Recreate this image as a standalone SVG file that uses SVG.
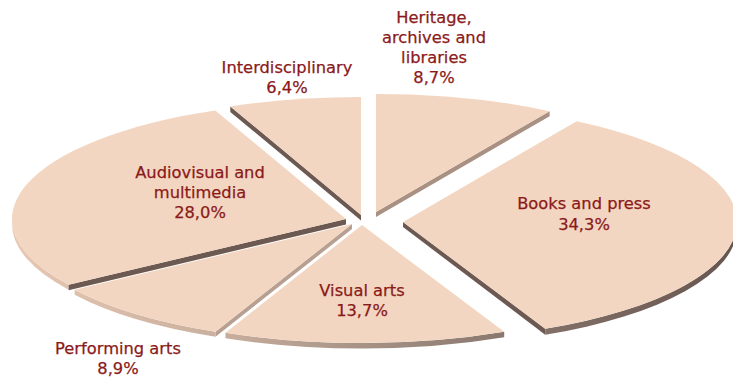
<svg xmlns="http://www.w3.org/2000/svg" width="733" height="379" viewBox="0 0 733 379">
<style>
.top{fill:#F3D6C1;}
.dark{fill:#6C5A52;}
.mid{fill:#A89082;}
.light{fill:#B7A091;}
.side{fill:url(#sideGrad);}
text{font-family:"DejaVu Sans",Verdana,sans-serif;font-size:16.3px;fill:#8B1A1A;stroke:#8B1A1A;stroke-width:0.25;text-anchor:middle;}
</style>
<defs>
<linearGradient id="sideGrad" gradientUnits="userSpaceOnUse" x1="0" y1="0" x2="733" y2="0">
<stop offset="0" stop-color="#E9C9B4"/>
<stop offset="0.3" stop-color="#C9AF9E"/>
<stop offset="0.5" stop-color="#A59185"/>
<stop offset="0.72" stop-color="#85726A"/>
<stop offset="1" stop-color="#675650"/>
</linearGradient>
</defs>
<rect width="733" height="379" fill="#FFFFFF"/>

<g id="heritage">
<polygon class="mid" points="376,212 549.6,111.2 549.6,116.2 376,217"/>
<path class="top" d="M376,212 L376,94 A334,118 0 0,1 549.6,111.2 Z"/>
<text x="434" y="23">Heritage,</text>
<text x="434" y="43">archives and</text>
<text x="434" y="63">libraries</text>
<text x="434" y="83">8,7%</text>
</g>

<g id="books">
<polygon class="dark" points="403,222 545.2,328.8 545.2,334.8 403,227"/>
<path class="side" d="M737,222 A334,118 0 0,1 545.2,328.8 L545.2,334.8 A334,118 0 0,0 737,228 Z"/>
<path class="top" d="M403,222 L576.6,121.2 A334,118 0 0,1 545.2,328.8 Z"/>
<text x="584" y="209">Books and press</text>
<text x="584" y="230">34,3%</text>
</g>

<g id="visual">
<path class="side" d="M504.2,331.8 A334,118 0 0,1 225.5,332.7 L225.5,338.2 A334,118 0 0,0 504.2,337.3 Z"/>
<path class="top" d="M362,225 L504.2,331.8 A334,118 0 0,1 225.5,332.7 Z"/>
<text x="362" y="296">Visual arts</text>
<text x="362" y="316">13,7%</text>
</g>

<g id="performing">
<polygon class="light" points="352,224 215.5,331.7 215.5,336.7 352,229"/>
<path class="side" d="M215.5,331.7 A334,118 0 0,1 74.6,289.7 L74.6,294.7 A334,118 0 0,0 215.5,336.7 Z"/>
<path class="top" d="M352,224 L215.5,331.7 A334,118 0 0,1 74.6,289.7 Z"/>
<text x="118" y="354">Performing arts</text>
<text x="118" y="374">8,9%</text>
</g>

<g id="audiovisual">
<path class="side" d="M68.6,284.7 A334,118 0 0,1 12,219 L12,224 A334,118 0 0,0 68.6,289.7 Z"/>
<polygon class="dark" points="346,219 68.6,284.7 68.6,290.2 346,224.5"/>
<path class="top" d="M346,219 L68.6,284.7 A334,118 0 0,1 215.3,110.4 Z"/>
<text x="200" y="178">Audiovisual and</text>
<text x="200" y="198">multimedia</text>
<text x="200" y="218">28,0%</text>
</g>

<g id="interdisciplinary">
<polygon class="dark" points="361,215 230.3,106.4 230.3,111.9 361,220.5"/>
<path class="top" d="M361,215 L230.3,106.4 A334,118 0 0,1 361,97 Z"/>
<text x="287" y="73">Interdisciplinary</text>
<text x="287" y="93">6,4%</text>
</g>
</svg>
